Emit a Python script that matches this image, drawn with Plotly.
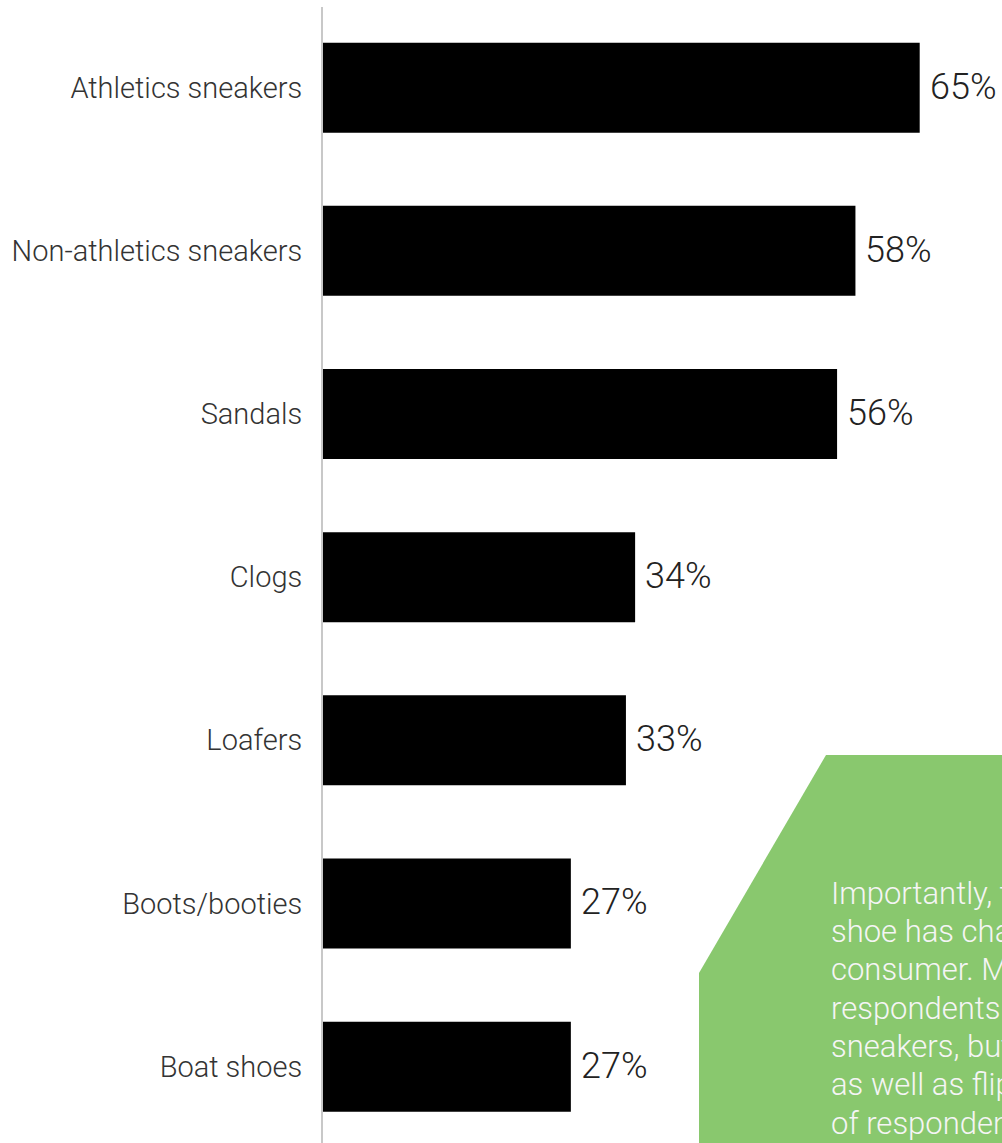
import plotly.graph_objects as go

# Share of respondents by shoe type
categories = [
    "Athletics sneakers",
    "Non-athletics sneakers",
    "Sandals",
    "Clogs",
    "Loafers",
    "Boots/booties",
    "Boat shoes",
]
values = [65, 58, 56, 34, 33, 27, 27]
value_labels = ["65%", "58%", "56%", "34%", "33%", "27%", "27%"]

callout_lines = [
    "Importantly, the definition of a go-to",
    "shoe has changed for today's",
    "consumer. More than half of",
    "respondents wear athletics",
    "sneakers, but sandals are close behind,",
    "as well as flip-flops, worn by a third",
    "of respondents",
]

W, H = 1002, 1143
ML, MR, MT, MB = 323, 0, 7, 0
PW, PH = W - ML - MR, H - MT - MB


def px(x):
    return (x - ML) / PW


def py(y):
    return 1 - (y - MT) / PH


FONT = "'Roboto Light', Roboto, 'Open Sans', sans-serif"

fig = go.Figure(
    go.Bar(
        x=values,
        y=categories,
        orientation="h",
        marker=dict(color="#000000", line=dict(width=0)),
        width=0.5516,
        hoverinfo="skip",
    )
)

# value labels placed just past the bar ends
for cat, v, lab in zip(categories, values, value_labels):
    fig.add_annotation(
        x=v, y=cat, xref="x", yref="y",
        text=lab, showarrow=False,
        xanchor="left", yanchor="middle", xshift=8, yshift=1,
        font=dict(family=FONT, size=36, color="#222222", weight=300),
    )

# green callout panel
path = "M {} {} L {} {} L {} {} L {} {} L {} {} Z".format(
    px(826), py(755), px(1002), py(755), px(1002), py(1143),
    px(699), py(1143), px(699), py(973),
)
fig.add_shape(
    type="path", path=path, xref="paper", yref="paper",
    fillcolor="#89c86e", line=dict(width=0), layer="above",
)
# callout text, one line at a time for a tight line pitch
first_baseline, pitch = 905.7, 38.3
for i, line in enumerate(callout_lines):
    fig.add_annotation(
        x=px(829), y=py(first_baseline + i * pitch + 8), xref="paper", yref="paper",
        text=line, showarrow=False, align="left",
        xanchor="left", yanchor="bottom",
        font=dict(family=FONT, size=31, color="#f5f5f5", weight=300),
    )

fig.update_layout(
    width=W, height=H,
    margin=dict(l=ML, r=MR, t=MT, b=MB, pad=0),
    paper_bgcolor="white", plot_bgcolor="white",
    showlegend=False,
    xaxis=dict(
        range=[0, PW / 9.18], visible=False, fixedrange=True,
    ),
    yaxis=dict(
        type="category",
        range=[6.468, -0.4946],
        showline=True, linecolor="#c8c8c8", linewidth=2,
        showgrid=False, zeroline=False,
        ticks="", ticklabelstandoff=13,
        tickfont=dict(family=FONT, size=29, color="#333333", weight=300),
        fixedrange=True,
    ),
)

fig.write_html("out.html", config={"displayModeBar": False})
